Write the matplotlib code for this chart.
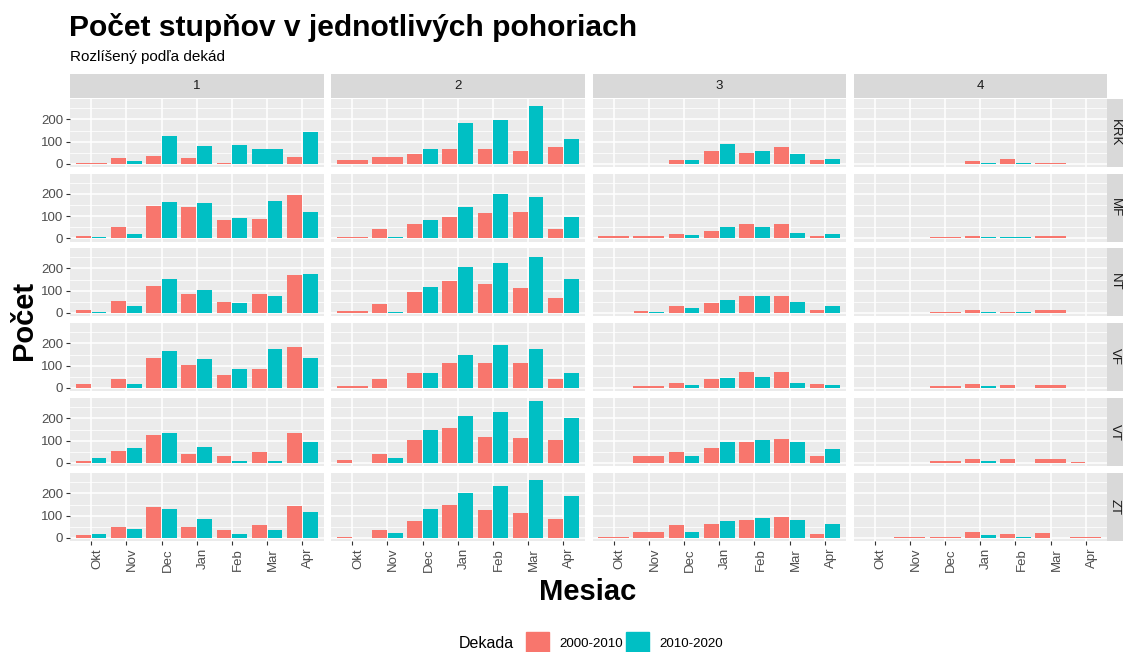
import numpy as np
import matplotlib
matplotlib.use("Agg")
import matplotlib.pyplot as plt
from matplotlib.patches import Rectangle

N = np.nan  # combination missing in the data -> other bar takes the full slot

months = ["Okt", "Nov", "Dec", "Jan", "Feb", "Mar", "Apr"]
columns = ["1", "2", "3", "4"]
ranges = ["KRK", "MF", "NT", "VF", "VT", "ZT"]
decades = ["2000-2010", "2010-2020"]

# one list per facet column (1..4), values per month Okt..Apr
krk_2000 = [[5, 27, 36, 27, 6, N, 32],
            [17, 32, 45, 66, 66, 56, 77],
            [N, N, 17, 60, 50, 75, 17],
            [N, N, N, 12, 22, 5, N]]
krk_2010 = [[N, 12, 125, 81, 86, 68, 144],
            [N, N, 66, 183, 198, 262, 114],
            [N, N, 17, 89, 56, 45, 23],
            [N, N, N, 5, 5, N, N]]

mf_2000 = [[10, 50, 147, 143, 84, 89, 197],
           [5, 41, 65, 95, 114, 119, 41],
           [9, 9, 20, 35, 65, 65, 9],
           [N, N, 6, 10, N, 10, N]]
mf_2010 = [[6, 20, 162, 158, 93, 167, 117],
           [N, 6, 84, 143, 198, 188, 95],
           [N, N, 15, 50, 50, 26, 20],
           [N, N, N, 5, 5, N, N]]

nt_2000 = [[14, 54, 122, 87, 48, 87, 171],
           [9, 39, 93, 143, 132, 113, 65],
           [N, 9, 29, 44, 74, 74, 14],
           [N, N, 5, 11, 5, 15, N]]
nt_2010 = [[6, 29, 152, 102, 44, 78, 176],
           [N, 6, 117, 208, 226, 251, 153],
           [N, 5, 20, 57, 74, 48, 33],
           [N, N, N, 5, 5, N, N]]

vf_2000 = [[17, 41, 134, 105, 60, 84, 183],
           [7, 41, 65, 110, 114, 114, 41],
           [N, 7, 21, 41, 71, 71, 17],
           [N, N, 7, 17, 12, 12, N]]
vf_2010 = [[0, 17, 164, 129, 84, 173, 134],
           [N, 0, 69, 149, 192, 173, 69],
           [N, N, 11, 45, 50, 21, 11],
           [N, N, N, 8, 0, N, N]]

vt_2000 = [[9, 53, 126, 42, 33, 47, 135],
           [14, 42, 105, 155, 116, 111, 101],
           [N, 33, 47, 68, 96, 107, 33],
           [N, N, 8, 18, 18, 18, 6]]
vt_2010 = [[24, 68, 135, 72, 8, 8, 96],
           [0, 23, 150, 209, 229, 278, 203],
           [N, N, 29, 92, 101, 96, 63],
           [N, N, N, 8, 0, N, 0]]

zt_2000 = [[12, 51, 138, 51, 36, 60, 144],
           [6, 36, 77, 149, 125, 114, 86],
           [6, 27, 56, 62, 81, 95, 18],
           [N, 6, 6, 27, 17, 23, 6]]
zt_2010 = [[18, 41, 131, 86, 18, 36, 116],
           [0, 23, 129, 203, 233, 262, 189],
           [N, N, 27, 77, 90, 81, 62],
           [N, N, N, 12, 6, 0, N]]

counts = {"KRK": (krk_2000, krk_2010), "MF": (mf_2000, mf_2010),
          "NT": (nt_2000, nt_2010), "VF": (vf_2000, vf_2010),
          "VT": (vt_2000, vt_2010), "ZT": (zt_2000, zt_2010)}

COLORS = ["#F8766D", "#00BFC4"]
PANEL_BG = "#EBEBEB"
STRIP_BG = "#D9D9D9"
FONT = "Liberation Sans"
plt.rcParams["font.family"] = [FONT, "DejaVu Sans"]

W, H = 1123, 652
fig = plt.figure(figsize=(W / 100, H / 100), dpi=100)


def px_axes(left, top, width, height):
    return fig.add_axes([left / W, 1 - (top + height) / H, width / W, height / H])


col_left = [70, 331, 592.5, 853.5]
col_w = 253.5
row_top = [99, 173.5, 248, 323, 398, 473]
row_h = 68

ymax = np.nanmax([np.nanmax(v) for pair in counts.values() for v in pair])
ylim = (-0.05 * ymax, 1.05 * ymax)
x = np.arange(len(months))

for r, rng in enumerate(ranges):
    old, new = counts[rng]
    for c in range(len(columns)):
        ax = px_axes(col_left[c], row_top[r], col_w, row_h)
        ax.set_facecolor(PANEL_BG)
        a = np.array(old[c], dtype=float)
        b = np.array(new[c], dtype=float)
        # dodge like ggplot: a lone bar fills the whole slot
        only_a = ~np.isnan(a) & np.isnan(b)
        only_b = np.isnan(a) & ~np.isnan(b)
        both = ~np.isnan(a) & ~np.isnan(b)
        ax.bar(x[only_a], a[only_a], 0.88, color=COLORS[0], zorder=3)
        ax.bar(x[only_b], b[only_b], 0.88, color=COLORS[1], zorder=3)
        ax.bar(x[both] - 0.225, a[both], 0.42, color=COLORS[0], zorder=3)
        ax.bar(x[both] + 0.225, b[both], 0.42, color=COLORS[1], zorder=3)

        ax.set_xlim(-0.6, len(months) - 0.4)
        ax.set_ylim(*ylim)
        ax.set_yticks([0, 100, 200])
        ax.set_yticks([50, 150, 250], minor=True)
        ax.set_xticks(x)
        ax.grid(which="major", color="white", lw=1.1, zorder=0)
        ax.grid(which="minor", axis="y", color="white", lw=0.55, zorder=0)
        ax.set_axisbelow(True)
        for s in ax.spines.values():
            s.set_visible(False)
        ax.tick_params(which="minor", length=0)
        ax.tick_params(which="major", color="#333333", length=3, width=0.8,
                       labelcolor="#4D4D4D", labelsize=9.5, pad=2)
        if c == 0:
            ax.set_yticklabels(["0", "100", "200"])
        else:
            ax.tick_params(axis="y", length=0, labelleft=False)
        if r == len(ranges) - 1:
            ax.set_xticklabels(months, rotation=90, ha="left", va="top")
        else:
            ax.tick_params(axis="x", length=0, labelbottom=False)

    # right strip
    sx = px_axes(1107, row_top[r], 16, row_h)
    sx.set_facecolor(STRIP_BG)
    sx.set_xticks([])
    sx.set_yticks([])
    for s in sx.spines.values():
        s.set_visible(False)
    sx.text(0.5, 0.5, rng, rotation=270, ha="center", va="center",
            fontsize=9.5, color="#1A1A1A", transform=sx.transAxes)

# top strips
for c, lab in enumerate(columns):
    sx = px_axes(col_left[c], 74, col_w, 24)
    sx.set_facecolor(STRIP_BG)
    sx.set_xticks([])
    sx.set_yticks([])
    for s in sx.spines.values():
        s.set_visible(False)
    sx.text(0.5, 0.5, lab, ha="center", va="center", fontsize=9.5,
            color="#1A1A1A", transform=sx.transAxes)

# titles and axis labels
fig.text(69 / W, 1 - 27 / H, "Počet stupňov v jednotlivých pohoriach",
         fontsize=21.6, fontweight="bold", ha="left", va="center")
fig.text(70 / W, 1 - 57 / H, "Rozlíšený podľa dekád", fontsize=11,
         ha="left", va="center")
fig.text(24 / W, 1 - 320 / H, "Počet", rotation=90, fontsize=21,
         fontweight="bold", ha="center", va="center")
fig.text(588 / W, 1 - 592 / H, "Mesiac", fontsize=21, fontweight="bold",
         ha="center", va="center")

# legend
fig.text(459 / W, 1 - 644 / H, "Dekada", fontsize=11.5, ha="left", va="center")
key_x = [526, 626]
lab_x = [559, 659]
for i, dec in enumerate(decades):
    fig.patches.append(Rectangle((key_x[i] / W, 1 - 655 / H), 23 / W, 23 / H,
                                 transform=fig.transFigure, color=COLORS[i]))
    fig.text(lab_x[i] / W, 1 - 644 / H, dec, fontsize=9.6, ha="left",
             va="center")

fig.savefig("out.png", dpi=100)
